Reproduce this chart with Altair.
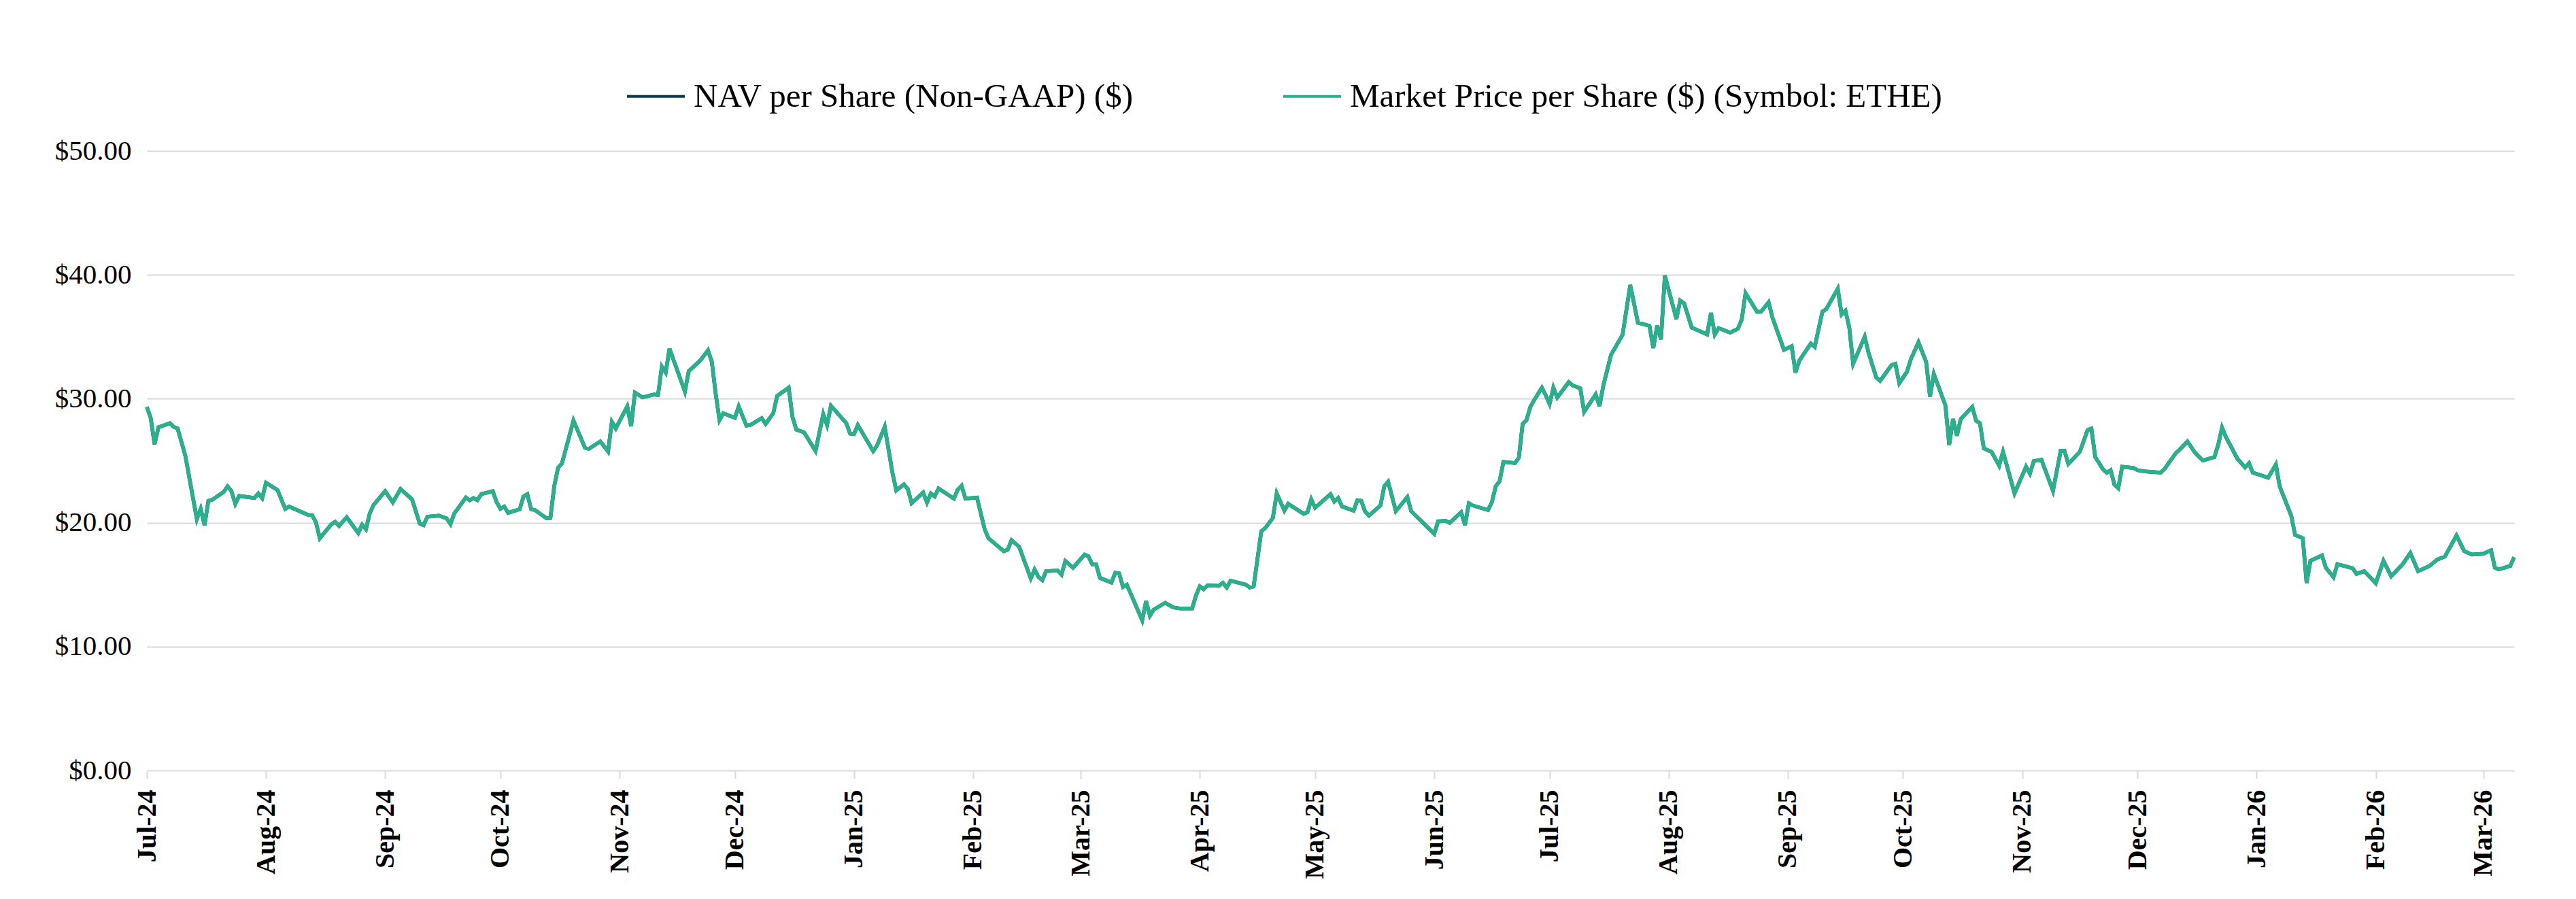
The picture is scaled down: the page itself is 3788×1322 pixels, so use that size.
import altair as alt
import pandas as pd

# Daily closing values, July 2024 - March 2026
dates = [
    "2024-07-01", "2024-07-02", "2024-07-03", "2024-07-04", "2024-07-07", "2024-07-08", "2024-07-09",
    "2024-07-11", "2024-07-14", "2024-07-15", "2024-07-16", "2024-07-17", "2024-07-18", "2024-07-21",
    "2024-07-22", "2024-07-23", "2024-07-24", "2024-07-25", "2024-07-29", "2024-07-30", "2024-07-31",
    "2024-08-01", "2024-08-04", "2024-08-06", "2024-08-07", "2024-08-12", "2024-08-13", "2024-08-14",
    "2024-08-15", "2024-08-18", "2024-08-19", "2024-08-20", "2024-08-22", "2024-08-25", "2024-08-26",
    "2024-08-27", "2024-08-28", "2024-08-29", "2024-09-01", "2024-09-03", "2024-09-05", "2024-09-08",
    "2024-09-10", "2024-09-11", "2024-09-12", "2024-09-15", "2024-09-17", "2024-09-18", "2024-09-19",
    "2024-09-22", "2024-09-23", "2024-09-24", "2024-09-25", "2024-09-26", "2024-09-29", "2024-09-30",
    "2024-10-01", "2024-10-02", "2024-10-03", "2024-10-06", "2024-10-07", "2024-10-08", "2024-10-09",
    "2024-10-10", "2024-10-13", "2024-10-14", "2024-10-15", "2024-10-16", "2024-10-17", "2024-10-20",
    "2024-10-23", "2024-10-24", "2024-10-27", "2024-10-29", "2024-10-30", "2024-10-31", "2024-11-03",
    "2024-11-04", "2024-11-05", "2024-11-07", "2024-11-10", "2024-11-11", "2024-11-12", "2024-11-13",
    "2024-11-14", "2024-11-18", "2024-11-19", "2024-11-22", "2024-11-24", "2024-11-25", "2024-11-26",
    "2024-11-27", "2024-11-28", "2024-12-01", "2024-12-02", "2024-12-04", "2024-12-05", "2024-12-08",
    "2024-12-09", "2024-12-11", "2024-12-12", "2024-12-15", "2024-12-16", "2024-12-17", "2024-12-19",
    "2024-12-22", "2024-12-24", "2024-12-25", "2024-12-26", "2024-12-30", "2024-12-31",
    "2025-01-01", "2025-01-02", "2025-01-06", "2025-01-07", "2025-01-09", "2025-01-11", "2025-01-12",
    "2025-01-14", "2025-01-15", "2025-01-16", "2025-01-19", "2025-01-20", "2025-01-21", "2025-01-22",
    "2025-01-23", "2025-01-27", "2025-01-28", "2025-01-29", "2025-01-30", "2025-02-02", "2025-02-04",
    "2025-02-05", "2025-02-09", "2025-02-10", "2025-02-11", "2025-02-13", "2025-02-16", "2025-02-17",
    "2025-02-18", "2025-02-19", "2025-02-20", "2025-02-23", "2025-02-24", "2025-02-25", "2025-02-27",
    "2025-03-02", "2025-03-03", "2025-03-04", "2025-03-05", "2025-03-06", "2025-03-09", "2025-03-10",
    "2025-03-11", "2025-03-12", "2025-03-13", "2025-03-17", "2025-03-18", "2025-03-19", "2025-03-20",
    "2025-03-23", "2025-03-25", "2025-03-27", "2025-03-30", "2025-03-31", "2025-04-01", "2025-04-02",
    "2025-04-03", "2025-04-06", "2025-04-07", "2025-04-08", "2025-04-09", "2025-04-13", "2025-04-14",
    "2025-04-15", "2025-04-17", "2025-04-18", "2025-04-20", "2025-04-21", "2025-04-23", "2025-04-24",
    "2025-04-28", "2025-04-29", "2025-04-30", "2025-05-01", "2025-05-05", "2025-05-06", "2025-05-07",
    "2025-05-08", "2025-05-11", "2025-05-12", "2025-05-13", "2025-05-14", "2025-05-15", "2025-05-18",
    "2025-05-19", "2025-05-20", "2025-05-22", "2025-05-25", "2025-05-26", "2025-06-01", "2025-06-02",
    "2025-06-04", "2025-06-05", "2025-06-08", "2025-06-09", "2025-06-10", "2025-06-11", "2025-06-15",
    "2025-06-16", "2025-06-17", "2025-06-18", "2025-06-19", "2025-06-22", "2025-06-23", "2025-06-24",
    "2025-06-25", "2025-06-26", "2025-06-27", "2025-06-29", "2025-06-30", "2025-07-01", "2025-07-02",
    "2025-07-03", "2025-07-06", "2025-07-07", "2025-07-09", "2025-07-10", "2025-07-13", "2025-07-14",
    "2025-07-15", "2025-07-17", "2025-07-20", "2025-07-22", "2025-07-24", "2025-07-27", "2025-07-28",
    "2025-07-29", "2025-07-30", "2025-07-31", "2025-08-03", "2025-08-04", "2025-08-05", "2025-08-07",
    "2025-08-11", "2025-08-12", "2025-08-13", "2025-08-14", "2025-08-17", "2025-08-19", "2025-08-20",
    "2025-08-21", "2025-08-24", "2025-08-25", "2025-08-27", "2025-08-28", "2025-08-31", "2025-09-02",
    "2025-09-03", "2025-09-04", "2025-09-07", "2025-09-08", "2025-09-10", "2025-09-11", "2025-09-14",
    "2025-09-15", "2025-09-16", "2025-09-17", "2025-09-18", "2025-09-21", "2025-09-22", "2025-09-24",
    "2025-09-25", "2025-09-28", "2025-09-29", "2025-09-30", "2025-10-02", "2025-10-03", "2025-10-05",
    "2025-10-07", "2025-10-08", "2025-10-09", "2025-10-12", "2025-10-13", "2025-10-14", "2025-10-15",
    "2025-10-16", "2025-10-19", "2025-10-20", "2025-10-21", "2025-10-22", "2025-10-24", "2025-10-26",
    "2025-10-27", "2025-10-29", "2025-10-30", "2025-11-02", "2025-11-03", "2025-11-04", "2025-11-06",
    "2025-11-09", "2025-11-11", "2025-11-12", "2025-11-13", "2025-11-16", "2025-11-18", "2025-11-19",
    "2025-11-20", "2025-11-22", "2025-11-23", "2025-11-24", "2025-11-25", "2025-11-26", "2025-11-27",
    "2025-11-30", "2025-12-01", "2025-12-03", "2025-12-07", "2025-12-08", "2025-12-11", "2025-12-12",
    "2025-12-14", "2025-12-16", "2025-12-18", "2025-12-21", "2025-12-22", "2025-12-23", "2025-12-24",
    "2025-12-27", "2025-12-29", "2025-12-30", "2025-12-31",
    "2026-01-04", "2026-01-06", "2026-01-07", "2026-01-10", "2026-01-11", "2026-01-13", "2026-01-14",
    "2026-01-15", "2026-01-18", "2026-01-19", "2026-01-21", "2026-01-22", "2026-01-26", "2026-01-27",
    "2026-01-29", "2026-02-01", "2026-02-03", "2026-02-05", "2026-02-08", "2026-02-10", "2026-02-12",
    "2026-02-15", "2026-02-17", "2026-02-19", "2026-02-22", "2026-02-24", "2026-02-26", "2026-03-01",
    "2026-03-03", "2026-03-04", "2026-03-05", "2026-03-08", "2026-03-09",
]

market_price = [
    29.34, 28.43, 26.33, 27.70, 28.03, 27.73, 27.60,
    25.41, 20.29, 21.12, 19.80, 21.76, 21.85, 22.49,
    22.94, 22.54, 21.52, 22.16, 21.99, 22.36, 21.97,
    23.22, 22.63, 21.11, 21.30, 20.62, 20.60, 20.02,
    18.74, 19.87, 20.07, 19.74, 20.44, 19.16, 19.84,
    19.47, 20.75, 21.44, 22.54, 21.63, 22.72, 21.88,
    19.93, 19.80, 20.48, 20.57, 20.35, 19.89, 20.75,
    22.03, 21.81, 21.99, 21.81, 22.30, 22.54, 21.66,
    21.12, 21.30, 20.79, 21.08, 22.12, 22.30, 21.08,
    21.02, 20.35, 20.38, 22.94, 24.44, 24.77, 28.24,
    26.05, 25.96, 26.56, 25.74, 28.15, 27.61, 29.38,
    27.79, 30.49, 30.11, 30.35, 30.29, 32.60, 32.12,
    34.04, 30.58, 32.23, 33.09, 33.91, 33.00, 30.44,
    28.28, 28.83, 28.46, 29.38, 27.84, 27.88, 28.43,
    27.97, 28.83, 30.22, 30.90, 28.52, 27.51, 27.29,
    25.78, 28.76, 27.88, 29.43, 28.03, 27.18,
    27.15, 27.88, 25.78, 26.23, 27.73, 24.04, 22.61,
    23.09, 22.72, 21.57, 22.43, 21.63, 22.36, 22.12,
    22.76, 21.94, 22.67, 22.98, 21.94, 22.03, 19.47,
    18.74, 17.70, 17.82, 18.59, 18.04, 15.50, 16.21,
    15.63, 15.36, 16.09, 16.13, 15.81, 16.91, 16.36,
    17.42, 17.28, 16.64, 16.64, 15.54, 15.17, 15.96,
    15.91, 14.81, 14.99, 12.12, 13.66, 12.49, 12.98,
    13.53, 13.16, 13.07, 13.07, 14.13, 14.86, 14.63,
    14.94, 14.90, 15.14, 14.77, 15.32, 14.99, 14.77,
    14.86, 19.32, 19.56, 20.38, 22.36, 20.97, 21.52,
    20.71, 20.84, 21.88, 21.21, 22.30, 21.70, 21.99,
    21.30, 20.97, 21.81, 21.76, 20.90, 20.57, 21.39,
    22.94, 23.31, 20.93, 22.07, 20.93, 19.10, 20.11,
    20.14, 19.98, 20.84, 19.80, 21.57, 21.39, 21.02,
    21.66, 22.94, 23.35, 24.90, 24.81, 25.23, 27.97,
    28.28, 29.34, 29.89, 30.90, 30.29, 29.58, 30.90,
    30.10, 31.35, 31.08, 30.84, 28.94, 30.35, 29.40,
    31.08, 33.55, 35.16, 39.18, 36.14, 35.89, 34.10,
    35.89, 34.79, 39.95, 36.44, 37.93, 37.71, 35.74,
    35.19, 36.93, 35.19, 35.70, 35.34, 35.65, 36.38,
    38.52, 37.02, 37.02, 37.79, 36.56, 33.95, 34.24,
    32.12, 33.09, 34.46, 34.19, 37.02, 37.24, 38.88,
    36.80, 37.11, 35.74, 32.82, 35.01, 33.73, 31.72,
    31.44, 32.72, 32.82, 31.26, 32.18, 33.18, 34.56,
    32.97, 30.18, 31.99, 29.48, 26.28, 28.37, 27.03,
    28.37, 29.34, 28.23, 28.03, 26.00, 25.72, 24.60,
    25.72, 23.49, 22.37, 24.52, 23.96, 24.97, 25.08,
    22.57, 25.80, 25.80, 24.74, 25.72, 27.48, 27.59,
    25.30, 24.32, 24.04, 24.24, 23.07, 22.79, 24.52,
    24.41, 24.24, 24.13, 24.04, 24.32, 25.63, 25.91,
    26.56, 25.63, 25.02, 25.30, 26.28, 27.67, 26.92,
    25.16, 24.46, 24.80, 24.04,
    23.63, 24.69, 22.93, 20.56, 19.02, 18.75, 15.12,
    16.93, 17.35, 16.37, 15.59, 16.65, 16.32, 15.87,
    16.09, 15.12, 16.93, 15.68, 16.65, 17.55, 16.09,
    16.51, 17.02, 17.27, 18.97, 17.71, 17.43, 17.49,
    17.77, 16.37, 16.23, 16.51, 17.21,
]

# NAV per share tracks the market price to within the line width
nav_per_share = list(market_price)

series_names = ["NAV per Share (Non-GAAP) ($)", "Market Price per Share ($) (Symbol: ETHE)"]
series_colors = ["#0b3b48", "#2bb08f"]

month_ticks = [
    (2024, 7), (2024, 8), (2024, 9), (2024, 10), (2024, 11), (2024, 12),
    (2025, 1), (2025, 2), (2025, 3), (2025, 4), (2025, 5), (2025, 6),
    (2025, 7), (2025, 8), (2025, 9), (2025, 10), (2025, 11), (2025, 12),
    (2026, 1), (2026, 2), (2026, 3),
]
price_ticks = [0, 10, 20, 30, 40, 50]

df = pd.concat([
    pd.DataFrame({"date": dates, "price": nav_per_share, "series": series_names[0]}),
    pd.DataFrame({"date": dates, "price": market_price, "series": series_names[1]}),
], ignore_index=True)

x_axis = alt.Axis(
    values=[alt.DateTime(year=y, month=m, date=1, utc=True) for y, m in month_ticks],
    format="%b-%y",
    labelAngle=270,
    labelFont="Liberation Serif",
    labelFontWeight="bold",
    labelFontSize=40,
    labelColor="#000000",
    labelPadding=16,
    labelOverlap=False,
    labelFlush=False,
    ticks=True,
    tickColor="#d9d9d9",
    tickWidth=2,
    tickSize=12,
    domain=False,
    grid=False,
    title=None,
)

y_axis = alt.Axis(
    values=price_ticks,
    format="$.2f",
    labelFont="Liberation Serif",
    labelFontSize=41,
    labelColor="#000000",
    labelPadding=23,
    ticks=False,
    domain=False,
    grid=True,
    gridColor="#d9d9d9",
    gridWidth=2,
    title=None,
)

legend = alt.Legend(
    orient="none",
    legendX=704,
    legendY=-125,
    direction="horizontal",
    title=None,
    labelFont="Liberation Serif",
    labelFontSize=49,
    labelColor="#000000",
    labelLimit=2000,
    labelOffset=11,
    columnPadding=212,
    symbolType="stroke",
    symbolSize=7225,
    symbolStrokeWidth=4,
    padding=0,
)

chart = (
    alt.Chart(df)
    .mark_line(strokeWidth=5.5)
    .encode(
        x=alt.X(
            "date:T",
            scale=alt.Scale(
                type="utc",
                domain=[
                    alt.DateTime(year=2024, month=7, date=1, utc=True),
                    alt.DateTime(year=2026, month=3, date=9, utc=True),
                ],
            ),
            axis=x_axis,
        ),
        y=alt.Y("price:Q", scale=alt.Scale(domain=[0, 50], nice=False), axis=y_axis),
        color=alt.Color(
            "series:N",
            scale=alt.Scale(domain=series_names, range=series_colors),
            legend=legend,
        ),
    )
    .properties(
        width=3481,
        height=911,
        autosize=alt.AutoSizeParams(type="none"),
        padding={"left": 216, "top": 222, "right": 91, "bottom": 189},
        background="#ffffff",
    )
    .configure_view(stroke=None)
)

chart.save("out.html", embed_options={"renderer": "svg", "actions": False})
